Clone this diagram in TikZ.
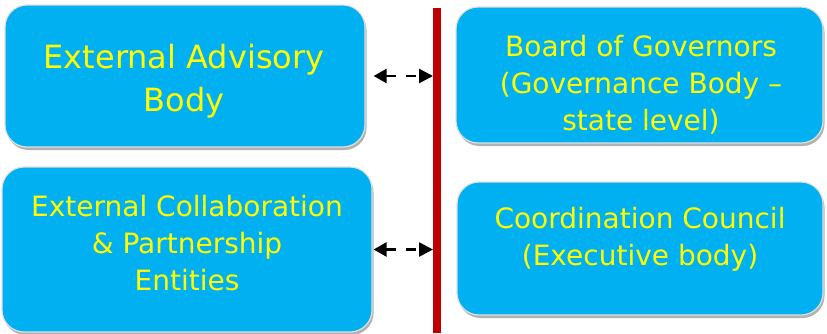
\documentclass[tikz,border=0pt]{standalone}
\usepackage{fontspec}
\setmainfont{DejaVu Sans}
\usetikzlibrary{arrows.meta,shadows}
\definecolor{boxblue}{HTML}{00B0F0}
\definecolor{txtyellow}{HTML}{FFFF00}
\definecolor{barred}{HTML}{C00000}
\tikzset{
  orgbox/.style={draw=black!12, line width=1.2pt, fill=boxblue, rounded corners=22pt, inner sep=0pt,
    drop shadow={shadow xshift=1.5pt, shadow yshift=-3pt, opacity=0.3, fill=black}},
  bigtxt/.style={text=txtyellow, align=center, inner sep=0pt, font=\fontsize{32}{43}\selectfont},
  midtxt/.style={text=txtyellow, align=center, inner sep=0pt, font=\fontsize{28}{37}\selectfont},
  redbar/.style={draw=barred, line width=8pt},
  dasharrow/.style={draw=black, line width=2.6pt, dash pattern=on 10pt off 10pt,
    {Triangle[length=13pt,width=14pt]}-{Triangle[length=14pt,width=14pt]}}
}
\begin{document}
\begin{tikzpicture}[x=1pt,y=-1pt]
\useasboundingbox (0,0) rectangle (827,333);
% boxes
\node[orgbox, minimum width=360pt, minimum height=142pt] (b1) at (185,76) {};
\node[orgbox, minimum width=370pt, minimum height=165pt] (b2) at (187,249.5) {};
\node[orgbox, minimum width=367pt, minimum height=136pt] (b3) at (639.5,75) {};
\node[orgbox, minimum width=366pt, minimum height=133pt] (b4) at (640,248.5) {};
% texts
\node[bigtxt] (t1) at (184,81) {External Advisory\\Body};
\node[midtxt] (t2) at (187,243) {External Collaboration\\\& Partnership\\Entities};
\node[midtxt] (t3) at (641,85) {Board of Governors\\(Governance Body –\\state level)};
\node[midtxt] (t4) at (640,239) {Coordination Council\\(Executive body)};
% red bar
\coordinate (rtop) at (437,8);
\coordinate (rbot) at (437,333);
\draw[redbar] (rtop) -- (rbot);
\coordinate (rl) at (433,0);
% arrows
\draw[dasharrow, shorten <=8pt] (b1.east) -- (b1.east -| rl);
\draw[dasharrow, shorten <=1pt] (b2.east) -- (b2.east -| rl);
\end{tikzpicture}
\end{document}
